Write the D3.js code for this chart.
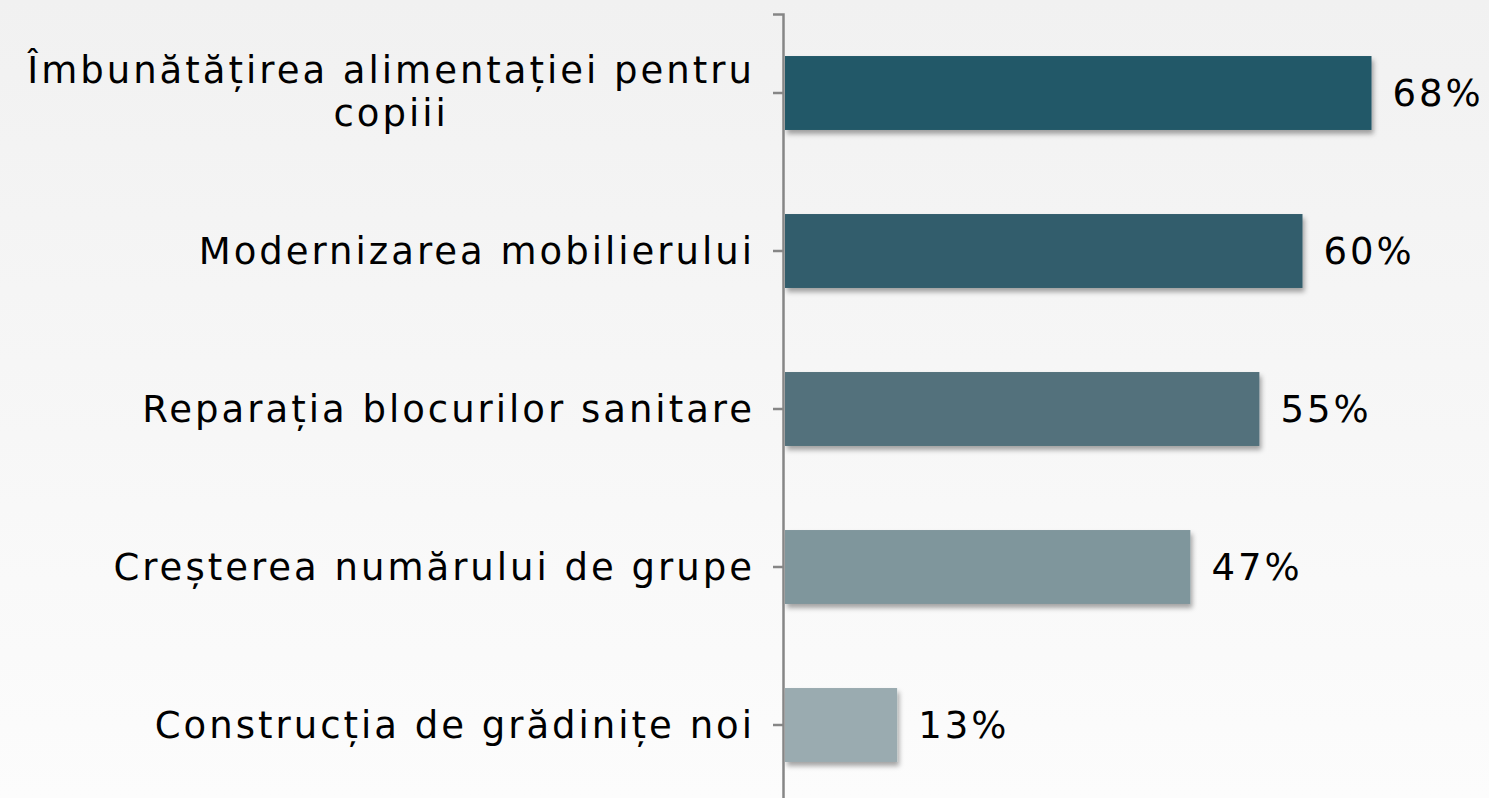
<!DOCTYPE html>
<html>
<head>
<meta charset="utf-8">
<script src="https://cdn.jsdelivr.net/npm/d3@7"></script>
<style>
  html, body { margin: 0; padding: 0; overflow: hidden; }
  svg { display: block; }
</style>
</head>
<body>
<div id="chart"></div>
<script>
// chart data
var categories = [
    "Îmbunătățirea alimentației pentru copiii",
    "Modernizarea mobilierului",
    "Reparația blocurilor sanitare",
    "Creșterea numărului de grupe",
    "Construcția de grădinițe noi"
];
var values = [68, 60, 55, 47, 13];
var barColors = ["#215968", "#325d6c", "#52717b", "#7f969c", "#9aabb0"];

var width = 1489;
var height = 798;
var fontFamily = "'DejaVu Sans', sans-serif";

var svg = d3.select("#chart")
    .append("svg")
        .attr("width", width)
        .attr("height", height);

var defs = svg.append("defs");
var grad = defs.append("linearGradient")
    .attr("id", "bg")
    .attr("x1", 0).attr("y1", 0)
    .attr("x2", 0).attr("y2", 1);
grad.append("stop").attr("offset", "0%").attr("stop-color", "#f1f1f1");
grad.append("stop").attr("offset", "100%").attr("stop-color", "#fcfcfc");

var shadow = defs.append("filter")
    .attr("id", "shadow")
    .attr("x", "-10%").attr("y", "-20%")
    .attr("width", "130%").attr("height", "160%");
shadow.append("feDropShadow")
    .attr("dx", 2)
    .attr("dy", 4)
    .attr("stdDeviation", 2.5)
    .attr("flood-color", "#000")
    .attr("flood-opacity", 0.35);

svg.append("rect")
    .attr("width", width)
    .attr("height", height)
    .attr("fill", "url(#bg)");

var x = d3.scaleLinear()
    .domain([0, 80])
    .range([785, 1475]);

var y = d3.scaleBand()
    .domain(categories)
    .range([14, 804])
    .paddingInner(0.532)
    .paddingOuter(0.266);

// bars
svg.append("g")
    .selectAll("rect")
    .data(values)
    .enter()
    .append("rect")
        .attr("x", x(0))
        .attr("y", (d, i) => y(categories[i]))
        .attr("width", d => x(d) - x(0))
        .attr("height", y.bandwidth())
        .attr("fill", (d, i) => barColors[i])
        .attr("filter", "url(#shadow)");

// category axis, ticks only
var axis = svg.append("g")
    .attr("transform", "translate(" + 783 + ",0)")
    .call(d3.axisLeft(y).tickSize(10).tickSizeOuter(10).tickFormat(""));
axis.select(".domain")
    .attr("stroke", "#868686")
    .attr("stroke-width", 2.5);
axis.selectAll(".tick line")
    .attr("stroke", "#868686")
    .attr("stroke-width", 2.5);

// category labels (wrap the first one into two centred lines)
var labels = svg.append("g")
    .attr("font-family", fontFamily)
    .attr("font-size", 37)
    .attr("letter-spacing", 3)
    .attr("fill", "#000");

categories.forEach(function(c, i){
    var cy = y(c) + y.bandwidth() / 2;
    if (i == 0) {
        var l1 = labels.append("text")
            .text("Îmbunătățirea alimentației pentru")
            .attr("x", 755)
            .attr("y", cy - 10)
            .attr("text-anchor", "end");
        var w = l1.node().getComputedTextLength();
        labels.append("text")
            .text("copiii")
            .attr("x", 755 - w / 2)
            .attr("y", cy + 33)
            .attr("text-anchor", "middle");
    } else {
        labels.append("text")
            .text(c)
            .attr("x", 755)
            .attr("y", cy + 13)
            .attr("text-anchor", "end");
    }
});

// value labels
svg.append("g")
    .selectAll("text")
    .data(values)
    .enter()
    .append("text")
        .text(d => d + "%")
        .attr("x", d => x(d) + 21)
        .attr("y", (d, i) => y(categories[i]) + y.bandwidth() / 2 + 13)
        .attr("font-family", fontFamily)
        .attr("font-size", 37)
        .attr("letter-spacing", 3)
        .attr("fill", "#000");
</script>
</body>
</html>
